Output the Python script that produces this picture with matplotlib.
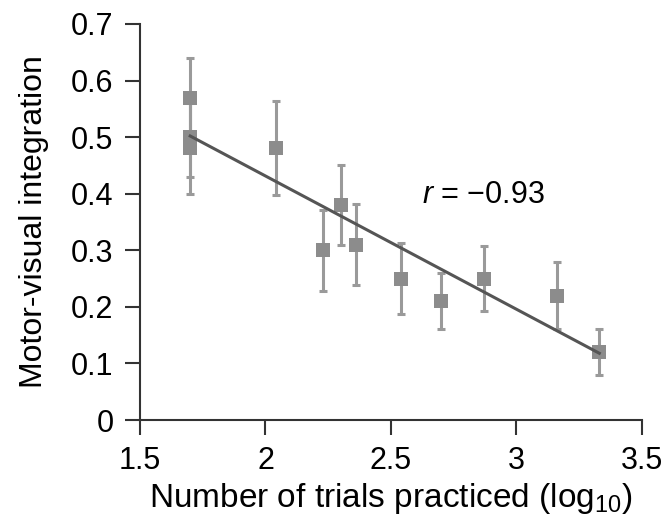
import matplotlib
matplotlib.use("Agg")
import matplotlib.pyplot as plt

plt.rcParams["font.family"] = ["Liberation Sans", "DejaVu Sans"]
plt.rcParams["mathtext.fontset"] = "custom"
plt.rcParams["mathtext.rm"] = "Liberation Sans"
plt.rcParams["mathtext.it"] = "Liberation Sans:italic"

# values
trials_log = [1.70, 1.70, 1.70, 2.04, 2.23, 2.30, 2.36, 2.54, 2.70, 2.87, 3.16, 3.33]
integration = [0.57, 0.50, 0.48, 0.48, 0.30, 0.38, 0.31, 0.25, 0.21, 0.25, 0.22, 0.12]
sem = [0.07, 0.07, 0.08, 0.083, 0.072, 0.07, 0.071, 0.062, 0.049, 0.058, 0.06, 0.04]

fit_x = [1.70, 3.33]
fit_y = [0.502, 0.118]

x_ticks = [1.5, 2, 2.5, 3, 3.5]
x_labels = ["1.5", "2", "2.5", "3", "3.5"]
y_ticks = [0, 0.1, 0.2, 0.3, 0.4, 0.5, 0.6, 0.7]
y_labels = ["0", "0.1", "0.2", "0.3", "0.4", "0.5", "0.6", "0.7"]

fig = plt.figure(figsize=(6.67, 5.26), dpi=100)
ax = fig.add_axes([0.2099, 0.2015, 0.7526, 0.7529])

ax.errorbar(
    trials_log, integration, yerr=sem,
    fmt="none", ecolor="#9a9a9a", elinewidth=2.2, capsize=3, capthick=2.2,
    zorder=1,
)
ax.plot(trials_log, integration, "s", color="#8c8c8c", markersize=9.5,
        markeredgewidth=0, zorder=2)
ax.plot(fit_x, fit_y, color="#555555", linewidth=2.2, zorder=3)

ax.text(2.625, 0.383, "$r$ = \u22120.93", fontsize=22, ha="left", va="baseline")

ax.set_xlim(1.5, 3.5)
ax.set_ylim(0, 0.7)
ax.set_xticks(x_ticks)
ax.set_xticklabels(x_labels)
ax.set_yticks(y_ticks)
ax.set_yticklabels(y_labels)

for side in ["top", "right"]:
    ax.spines[side].set_visible(False)
for side in ["left", "bottom"]:
    ax.spines[side].set_linewidth(1.5)
    ax.spines[side].set_color("#333333")

ax.tick_params(axis="both", direction="out", length=11, width=1.5,
               color="#333333", labelsize=22, pad=8)

ax.set_xlabel("Number of trials practiced (log$_{10}$)", fontsize=24, labelpad=3)
ax.set_ylabel("Motor-visual integration", fontsize=23, labelpad=16)

fig.savefig("out.png", dpi=100)
